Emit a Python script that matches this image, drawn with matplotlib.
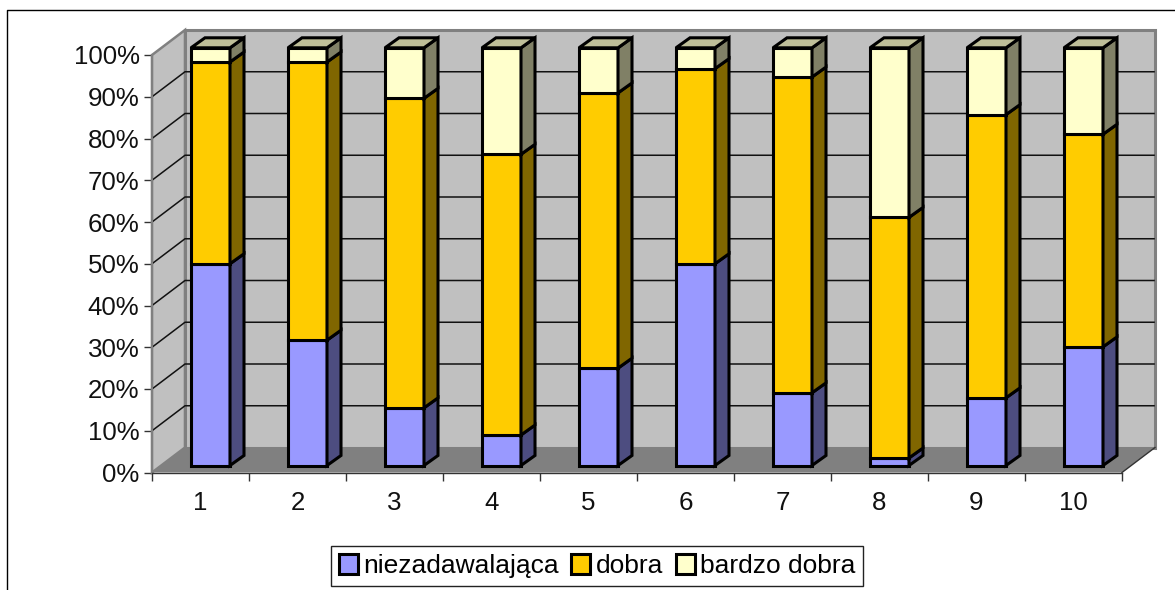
import matplotlib
matplotlib.use("Agg")
import matplotlib.pyplot as plt
from matplotlib.patches import Patch, Polygon
from matplotlib.lines import Line2D
import numpy as np

plt.rcParams["font.family"] = ["Liberation Sans", "DejaVu Sans"]

categories = ["1", "2", "3", "4", "5", "6", "7", "8", "9", "10"]
series_names = ["niezadawalająca", "dobra", "bardzo dobra"]
niezadawalajaca = [48.3, 30.0, 13.8, 7.3, 23.3, 48.3, 17.4, 1.8, 16.2, 28.4]
dobra = [48.3, 66.6, 74.1, 67.2, 65.9, 46.7, 75.6, 57.6, 67.8, 50.9]
bardzo_dobra = [3.4, 3.4, 12.1, 25.5, 10.8, 5.0, 7.0, 40.6, 16.0, 20.7]
y_ticks = list(range(0, 101, 10))

FACE = ["#9999FF", "#FFCC00", "#FFFFCC"]
SIDE = ["#4D4D80", "#806600", "#808066"]
TOP = "#BFBF99"

W, H = 1175, 590
L, R, B, T = 152, 1122, 472.5, 55
PX_X = 10 / (R - L)      # data units per pixel
PX_Y = 100 / (B - T)

fig = plt.figure(figsize=(W / 100, H / 100), dpi=100, facecolor="white")
ax = fig.add_axes([L / W, 1 - B / H, (R - L) / W, (B - T) / H])
ax.set_xlim(0, 10)
ax.set_ylim(0, 100)
ax.patch.set_visible(False)

# depth of the 3d box, and where the bars sit inside it
box_dx, box_dy = 33 * PX_X, 25 * PX_Y
bar_lift = 7 * PX_Y
bar_inset = 39 * PX_X
bar_dx, bar_dy = 14 * PX_X, 10 * PX_Y
bar_w = 39 * PX_X
bar_scale = (417.7 * PX_Y) / 100


def poly(pts, fc, ec="none", lw=0, z=1):
    ax.add_patch(Polygon(pts, closed=True, facecolor=fc, edgecolor=ec, linewidth=lw,
                         zorder=z, clip_on=False, joinstyle="miter"))


# walls and floor
poly([(0, 0), (box_dx, box_dy), (box_dx, 100 + box_dy), (0, 100)], "#C0C0C0", "#808080", 1.8, 1)
poly([(box_dx, box_dy), (10 + box_dx, box_dy), (10 + box_dx, 100 + box_dy), (box_dx, 100 + box_dy)],
     "#C0C0C0", "#808080", 2.2, 1)
poly([(0, 0), (10, 0), (10 + box_dx, box_dy), (box_dx, box_dy)], "#808080", "none", 0, 2)
ax.plot([10, 10 + box_dx], [0, box_dy], color="#333333", lw=1.0, zorder=2, clip_on=False)

for t in y_ticks[1:-1]:
    ax.plot([0, box_dx, 10 + box_dx - 0.01], [t, t + box_dy, t + box_dy], color="#111111", lw=1.1,
            zorder=2, clip_on=False)

# stacked bars, drawn from the values
values = np.array([niezadawalajaca, dobra, bardzo_dobra])
bottoms = np.vstack([np.zeros(len(categories)), np.cumsum(values, axis=0)[:-1]])
for i in range(len(categories)):
    x0 = i + bar_inset
    for s in range(3):
        y0 = bar_lift + bottoms[s, i] * bar_scale
        h = values[s, i] * bar_scale
        ax.bar(x0, h, width=bar_w, bottom=y0, align="edge", color=FACE[s], edgecolor="black",
               linewidth=2.2, zorder=3, clip_on=False)
        poly([(x0 + bar_w, y0), (x0 + bar_w + bar_dx, y0 + bar_dy),
              (x0 + bar_w + bar_dx, y0 + h + bar_dy), (x0 + bar_w, y0 + h)],
             SIDE[s], "black", 2.2, 3)
    yt = bar_lift + 100 * bar_scale
    poly([(x0, yt), (x0 + bar_dx, yt + bar_dy), (x0 + bar_w + bar_dx, yt + bar_dy), (x0 + bar_w, yt)],
         TOP, "black", 2.2, 3)

# axes
for name in ["top", "right"]:
    ax.spines[name].set_visible(False)
ax.spines["left"].set_color("#808080")
ax.spines["left"].set_linewidth(1.5)
ax.spines["bottom"].set_color("#333333")
ax.spines["bottom"].set_linewidth(1.0)
ax.set_axisbelow(True)
ax.set_yticks(y_ticks)
ax.set_yticklabels([f"{t}%" for t in y_ticks], fontsize=18.6, color="#111111")
ax.set_xticks(np.arange(0, 11))
ax.set_xticklabels([])
ax.set_xticks(np.arange(0.5, 10), minor=True)
ax.set_xticklabels(categories, minor=True, fontsize=18.6, color="#111111")
ax.tick_params(axis="y", length=5.5, width=1.0, color="#333333", pad=3.5)
ax.tick_params(axis="x", which="major", length=5.5, width=1.0, color="#333333")
ax.tick_params(axis="x", which="minor", length=0, pad=13)

handles = [Patch(facecolor=FACE[s], edgecolor="black", linewidth=2.2) for s in range(3)]
leg = fig.legend(handles, series_names, loc="center", bbox_to_anchor=(597 / W, 1 - 566 / H),
                 ncol=3, fontsize=19.0, frameon=True, fancybox=False, edgecolor="#222222",
                 framealpha=1, handlelength=0.72, handleheight=0.8, handletextpad=0.2,
                 columnspacing=0.48, borderpad=0.3, borderaxespad=0, labelspacing=0)
leg.get_frame().set_linewidth(1.0)

# chart area border, cut by the edge of the picture
fig.add_artist(Line2D([7 / W, 7 / W, 1], [0, 1 - 9.5 / H, 1 - 9.5 / H], color="black", lw=1.0))

fig.savefig("out.png", dpi=100, facecolor="white")
